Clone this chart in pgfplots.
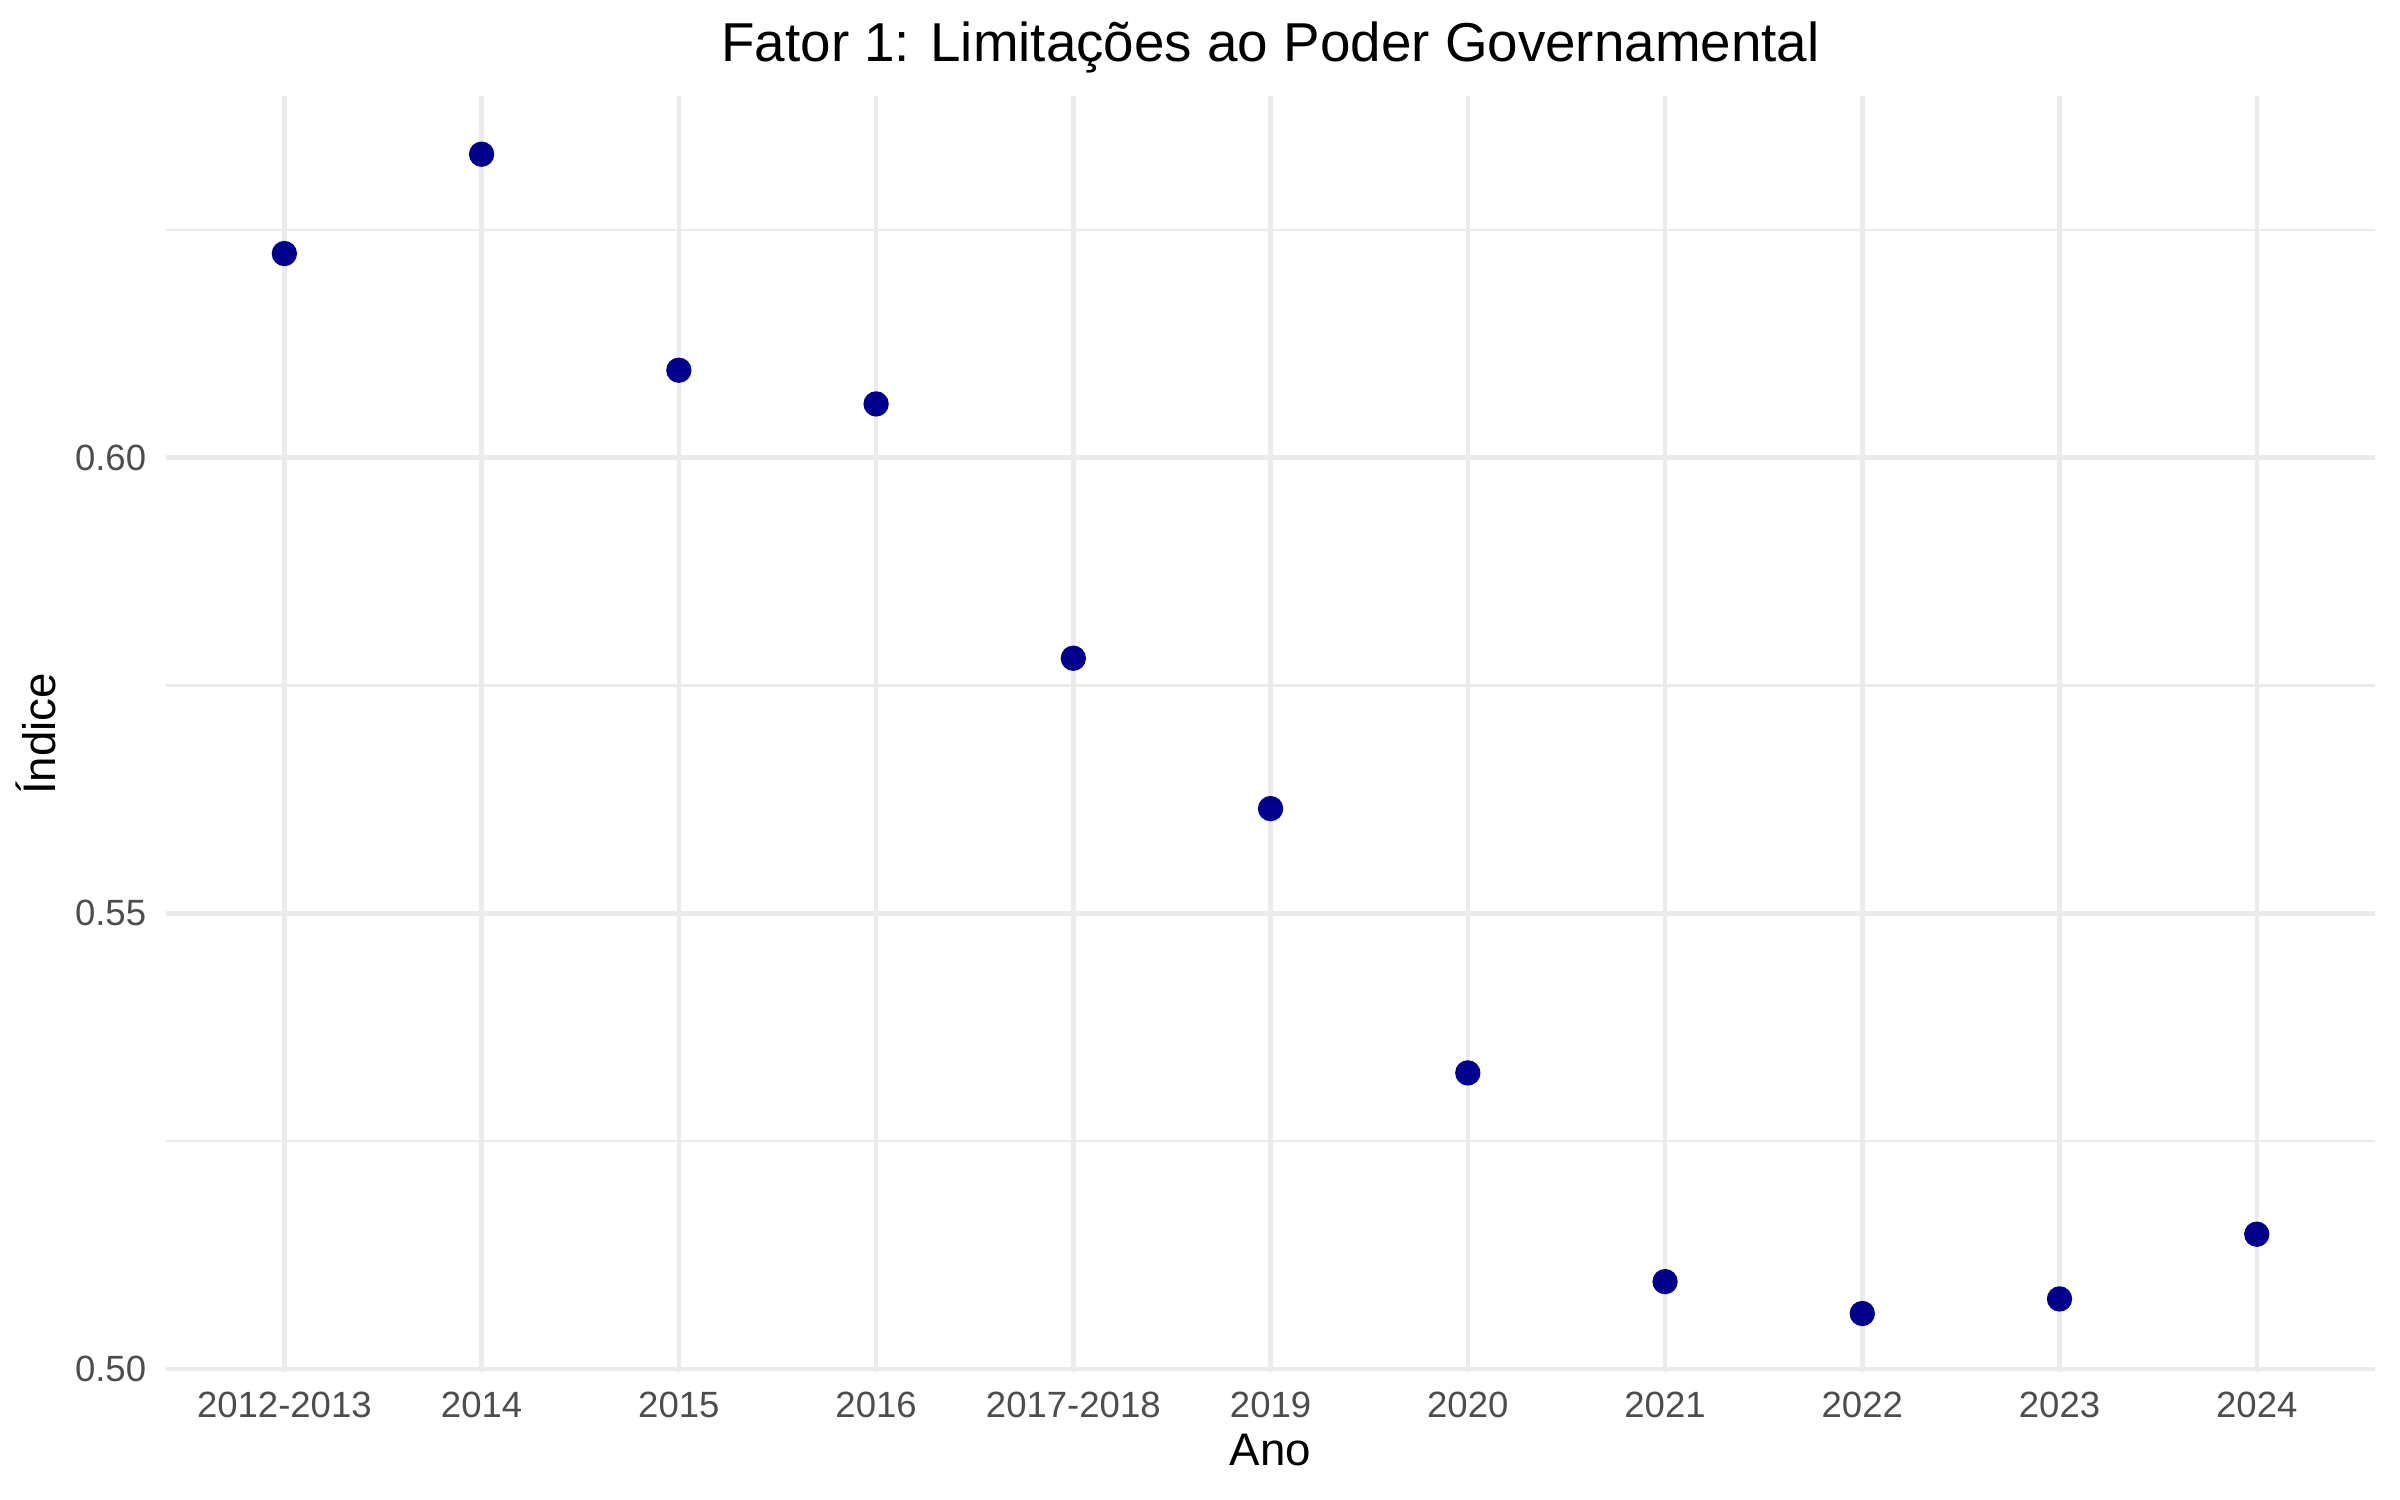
\documentclass[border=0pt]{standalone}
\usepackage{pgfplots}
\pgfplotsset{compat=1.18}
\usepackage{fontspec}
\setmainfont{Liberation Sans}
\definecolor{gridc}{HTML}{EBEBEB}
\definecolor{tickc}{HTML}{4D4D4D}
\definecolor{ptc}{HTML}{00008B}
\begin{document}
\begin{tikzpicture}
\begin{axis}[
  scale only axis,
  width=532.2pt, height=307.4pt,
  xmin=-0.6, xmax=10.6,
  ymin=0.4997, ymax=0.6397,
  clip=false,
  axis line style={draw=none},
  major tick length=0pt, minor tick length=0pt,
  tick style={draw=none},
  xtick={0,1,2,3,4,5,6,7,8,9,10},
  xticklabels={2012-2013,2014,2015,2016,2017-2018,2019,2020,2021,2022,2023,2024},
  ytick={0.50,0.55,0.60},
  minor ytick={0.525,0.575,0.625},
  yticklabel={\pgfmathprintnumber[fixed,fixed zerofill,precision=2]{\tick}},
  /pgf/number format/assume math mode=true,
  xmajorgrids, ymajorgrids, yminorgrids,
  major grid style={draw=gridc, line width=1.07pt},
  minor grid style={draw=gridc, line width=0.53pt},
  ticklabel style={font=\fontsize{8.8}{10.5}\selectfont, text=tickc},
  xticklabel style={anchor=base, yshift=-11.1pt},
  yticklabel style={anchor=east, inner sep=0pt, xshift=-4.6pt},
  xlabel={Ano},
  ylabel={Índice},
  label style={font=\fontsize{11}{13}\selectfont},
  xlabel style={at={(axis description cs:0.5,-0.0736)}, anchor=base},
  ylabel style={at={(axis description cs:-0.0502,0.5)}, anchor=base},
]
\addplot[only marks, mark=*, mark size=2.85pt, mark options={fill=ptc, draw=ptc}] coordinates {
(0,0.6224) (1,0.6333) (2,0.6096) (3,0.6059) (4,0.5780) (5,0.5615)
(6,0.5325) (7,0.5096) (8,0.5061) (9,0.5077) (10,0.5148)
};
\node[anchor=base, inner sep=0pt, font=\fontsize{13.2}{15.8}\selectfont] at (rel axis cs:0.5,1.0267) {Fator 1: Limitações ao Poder Governamental};
\end{axis}
\pgfresetboundingbox
\path ([xshift=-40.0pt,yshift=-30.8pt]current axis.south west) rectangle ([xshift=6.0pt,yshift=23.1pt]current axis.north east);
\end{tikzpicture}
\end{document}
